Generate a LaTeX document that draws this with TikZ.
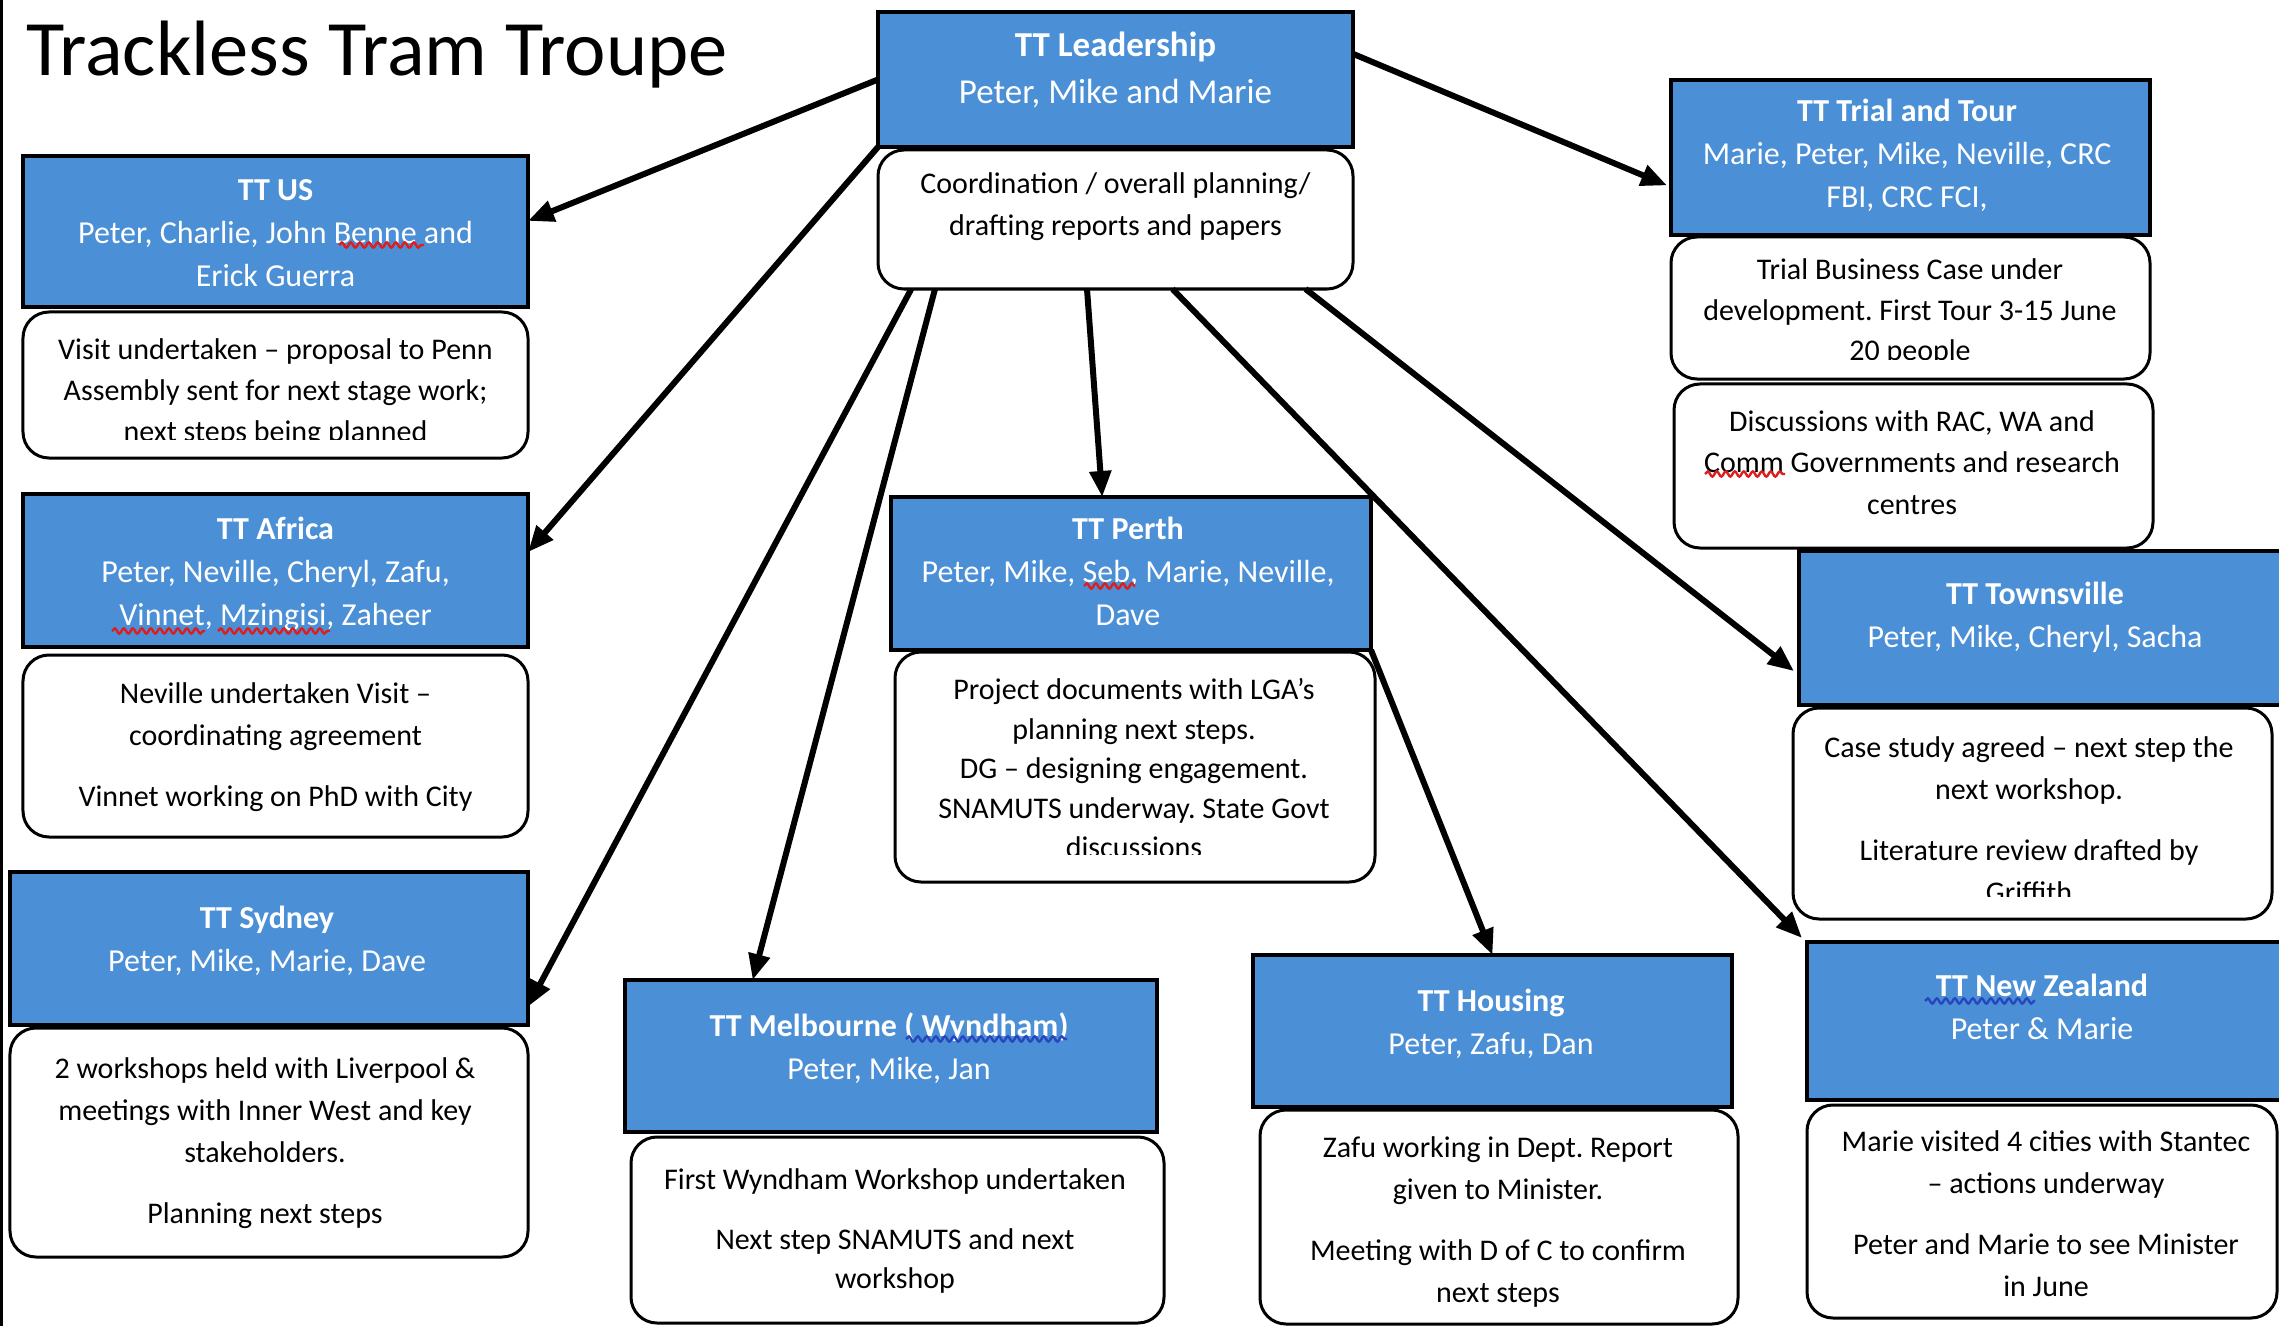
\documentclass[tikz,border=0pt]{standalone}
\usepackage{fontspec}
\setmainfont{Carlito}
\usetikzlibrary{arrows.meta,calc,decorations.pathmorphing}
\definecolor{ttblue}{RGB}{75,143,214}
\definecolor{squigred}{RGB}{220,30,30}
\definecolor{squigblue}{RGB}{40,70,190}
\frenchspacing
\begin{document}
\begin{tikzpicture}[x=1bp,y=-1bp,
  bluebox/.style={draw=black,line width=3.5bp,fill=ttblue,rectangle,inner sep=0,outer sep=0},
  notebox/.style={draw=black,line width=3bp,fill=white,rectangle,rounded corners=26bp,inner sep=0,outer sep=0},
  btext/.style={text=white,align=center,anchor=north,inner sep=0,font=\fontsize{32bp}{43bp}\selectfont},
  wtext/.style={text=black,align=center,anchor=north,inner sep=0,font=\fontsize{30bp}{42bp}\selectfont},
  conn/.style={line width=6bp,-{Triangle[length=26bp,width=21bp]}},
  squig/.style={line width=2.4bp,decorate,decoration={snake,amplitude=2.6bp,segment length=9bp}},
  sz/.style 2 args={minimum width=#1bp,minimum height=#2bp}
]
\useasboundingbox (0,0) rectangle (2279,1326);
\fill[white] (0,0) rectangle (2279,1326);
\draw[line width=3bp] (1.5,0) -- (1.5,1326);

% title
\node[anchor=base west,inner sep=0,font=\fontsize{78.5bp}{90bp}\selectfont] (title) at (26,76) {Trackless Tram Troupe};

% blue boxes
\node[bluebox,sz={475}{135}] (lead) at (1115.5,79.5) {};
\node[bluebox,sz={505}{151}] (us) at (275.5,231.5) {};
\node[bluebox,sz={505}{153}] (afr) at (275.5,570.5) {};
\node[bluebox,sz={518}{153}] (syd) at (269,948.5) {};
\node[bluebox,sz={532}{152}] (mel) at (891,1056) {};
\node[bluebox,sz={480}{153}] (per) at (1131,573.5) {};
\node[bluebox,sz={479}{152}] (hou) at (1492.5,1031) {};
\node[bluebox,sz={479}{155}] (tri) at (1910.5,157.5) {};
\node[bluebox,sz={485}{154}] (tv) at (2041.5,628) {};
\node[bluebox,sz={477}{158}] (nz) at (2045.5,1021) {};

% white note boxes
\node[notebox,sz={475}{139}] (leadw) at (1115.5,219.5) {};
\node[notebox,sz={505}{146}] (usw) at (275.5,385) {};
\node[notebox,sz={505}{182}] (afrw) at (275.5,746) {};
\node[notebox,sz={518}{229}] (sydw) at (269,1142.5) {};
\node[notebox,sz={533}{186}] (melw) at (897.5,1230) {};
\node[notebox,sz={480}{230}] (perw) at (1135,767) {};
\node[notebox,sz={478}{214}] (houw) at (1499,1217) {};
\node[notebox,sz={479}{142}] (triw1) at (1910.5,308) {};
\node[notebox,sz={479}{164}] (triw2) at (1913.5,466) {};
\node[notebox,sz={479}{211}] (tvw) at (2032.5,813.5) {};
\node[notebox,sz={470}{213}] (nzw) at (2042,1211.5) {};

% connectors
\draw[conn] (lead.west) -- ($(us.north east)!0.43!(us.south east)$);
\draw[conn] (lead.south west) -- ($(afr.north east)!0.38!(afr.south east)$);
\draw[conn] ($(leadw.south west)!0.07!(leadw.south east)$) -- ($(syd.north east)!0.88!(syd.south east)$);
\draw[conn] ($(leadw.south west)!0.12!(leadw.south east)$) -- ($(mel.north west)!0.24!(mel.north east)$);
\draw[conn] ($(leadw.south west)!0.44!(leadw.south east)$) -- ($(per.north west)!0.44!(per.north east)$);
\draw[conn] ($(leadw.south west)!0.62!(leadw.south east)$) -- ($(nz.north west)+(-5,-4)$);
\draw[conn] ($(leadw.south west)!0.90!(leadw.south east)$) -- ($(tv.north west)!0.78!(tv.south west)+(-5,0)$);
\draw[conn] ($(lead.north east)!0.31!(lead.south east)$) -- ($(tri.north west)!0.68!(tri.south west)+(-4,0)$);
\draw[conn] (per.south east) -- (hou.north);

% blue box texts
\node[btext,font=\fontsize{35bp}{47bp}\selectfont] (t-lead) at (1115.5,23) {\strut\textbf{TT Leadership}\\Peter, Mike and Marie};
\node[btext] (t-us) at (275.5,170) {\strut\textbf{TT US}\\Peter, Charlie, John Benne and\\Erick Guerra};
\node[btext] (t-afr) at (275.5,509) {\strut\textbf{TT Africa}\\Peter, Neville, Cheryl, Zafu,\\Vinnet, Mzingisi, Zaheer};
\node[btext] (t-syd) at (267,898) {\strut\textbf{TT Sydney}\\Peter, Mike, Marie, Dave};
\node[btext] (t-mel) at (889,1006) {\strut\textbf{TT Melbourne ( Wyndham)}\\Peter, Mike, Jan};
\node[btext] (t-per) at (1128,509) {\strut\textbf{TT Perth}\\Peter, Mike, Seb, Marie, Neville,\\Dave};
\node[btext] (t-hou) at (1491,981) {\strut\textbf{TT Housing}\\Peter, Zafu, Dan};
\node[btext] (t-tri) at (1907,91) {\strut\textbf{TT Trial and Tour}\\Marie, Peter, Mike, Neville, CRC\\FBI, CRC FCI,};
\node[btext] (t-tv) at (2035,574) {\strut\textbf{TT Townsville}\\Peter, Mike, Cheryl, Sacha};
\node[btext] (t-nz) at (2042,966) {\strut\textbf{TT New Zealand}\\Peter \& Marie};

% note texts
\node[wtext] (t-leadw) at (1115.5,164) {\strut Coordination / overall planning/\\drafting reports and papers};
\begin{scope}
\clip (23,312) rectangle (528,439);
\node[wtext,font=\fontsize{30bp}{41bp}\selectfont] (t-usw) at (275.5,331) {\strut Visit undertaken – proposal to Penn\\Assembly sent for next stage work;\\next steps being planned};
\end{scope}
\node[wtext] (t-afrw) at (275.5,674) {\strut Neville undertaken Visit –\\coordinating agreement\\[19bp]Vinnet working on PhD with City};
\node[wtext] (t-sydw) at (265,1049) {\strut 2 workshops held with Liverpool \&\\meetings with Inner West and key\\stakeholders.\\[19bp]Planning next steps};
\node[wtext,font=\fontsize{30bp}{39.5bp}\selectfont] (t-melw) at (895,1162) {\strut First Wyndham Workshop undertaken\\[20bp]Next step SNAMUTS and next\\workshop};
\begin{scope}
\clip (895,652) rectangle (1375,854);
\node[wtext,font=\fontsize{30bp}{39.5bp}\selectfont] (t-perw) at (1134,672) {\strut Project documents with LGA’s\\planning next steps.\\DG – designing engagement.\\SNAMUTS underway. State Govt\\discussions};
\end{scope}
\node[wtext] (t-houw) at (1498,1128) {\strut Zafu working in Dept. Report\\given to Minister.\\[19bp]Meeting with D of C to confirm\\next steps};
\begin{scope}
\clip (1671,237) rectangle (2150,359);
\node[wtext,font=\fontsize{30bp}{40.5bp}\selectfont] (t-triw1) at (1910,251) {\strut Trial Business Case under\\development. First Tour 3-15 June\\20 people};
\end{scope}
\node[wtext,font=\fontsize{30bp}{41.5bp}\selectfont] (t-triw2) at (1912,402) {\strut Discussions with RAC, WA and\\Comm Governments and research\\centres};
\begin{scope}
\clip (1793,708) rectangle (2272,896);
\node[wtext] (t-tvw) at (2029,728) {\strut Case study agreed – next step the\\next workshop.\\[19bp]Literature review drafted by\\Griffith};
\end{scope}
\node[wtext] (t-nzw) at (2046,1122) {\strut Marie visited 4 cities with Stantec\\– actions underway\\[19bp]Peter and Marie to see Minister\\in June};

% spell-check squiggles
\draw[squig,squigred] (339,245) -- (424,245);
\draw[squig,squigred] (112,631) -- (205,631);
\draw[squig,squigred] (218,631) -- (330,631);
\draw[squig,squigred] (1084,586) -- (1135,586);
\draw[squig,squigred] (1705,474) -- (1785,474);
\draw[squig,squigblue] (906,1039) -- (1067,1039);
\draw[squig,squigblue] (1925,1001) -- (2035,1001);
\end{tikzpicture}
\end{document}
